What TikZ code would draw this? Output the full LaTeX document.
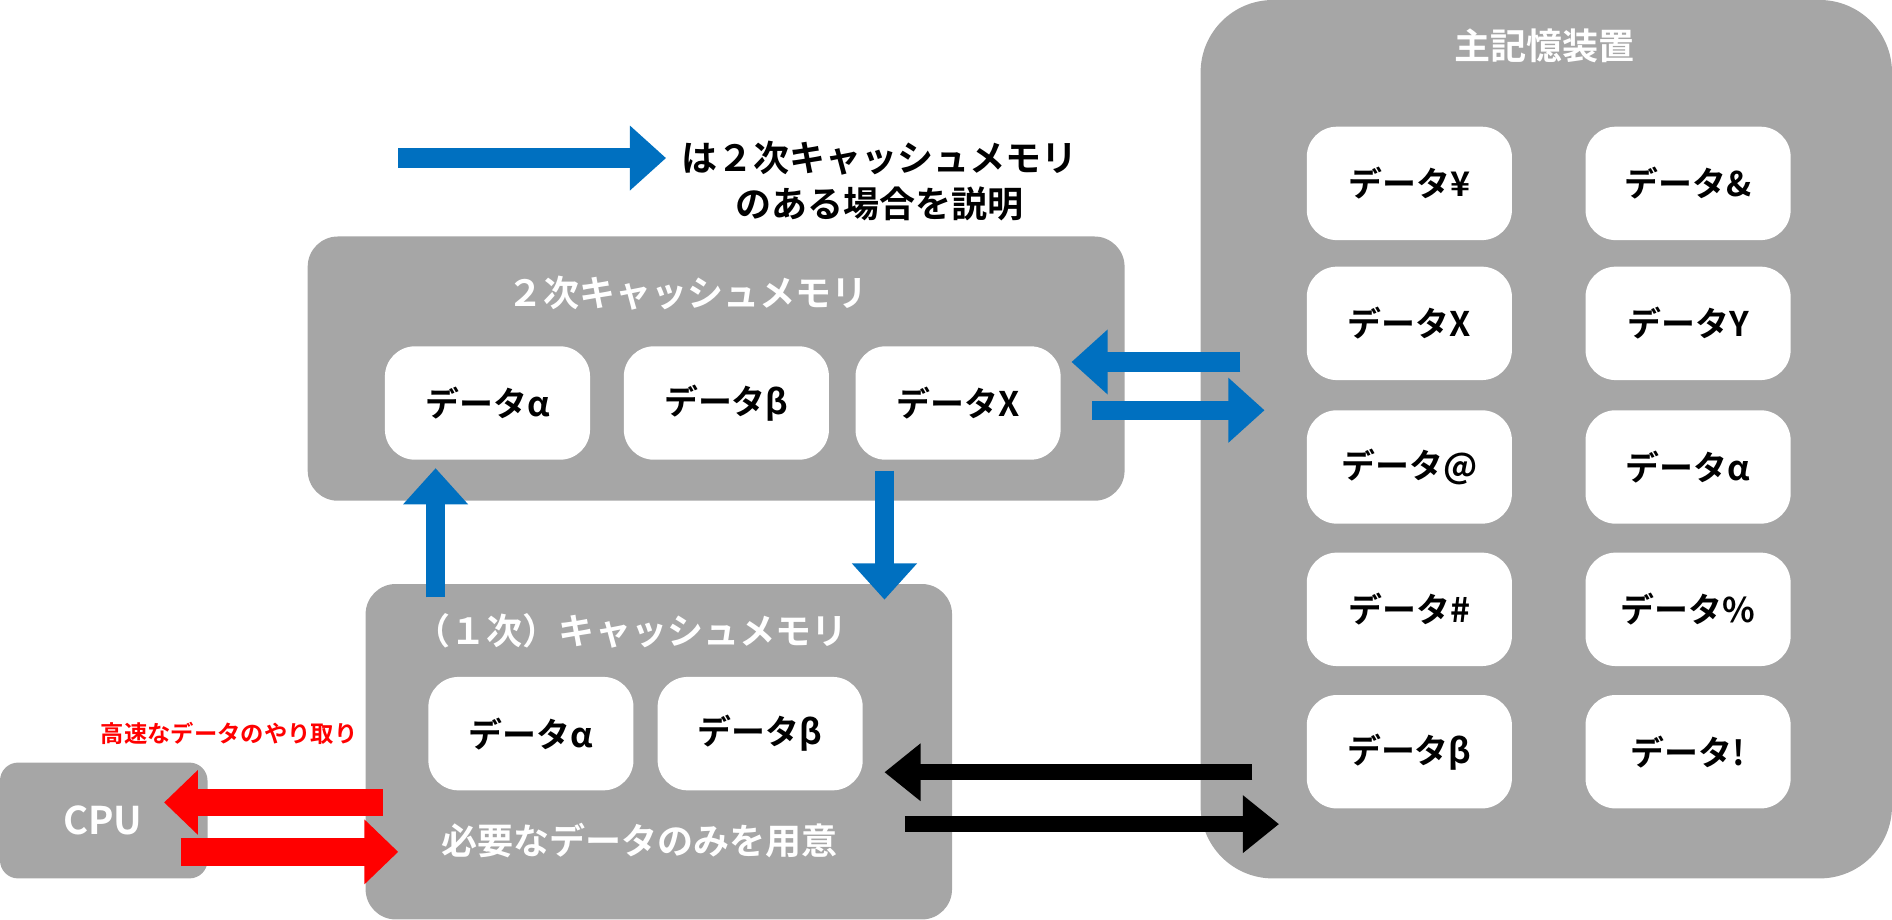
\documentclass[tikz,border=0pt]{standalone}
\usepackage{fontspec}
\setmainfont{Noto Sans CJK JP}[BoldFont={Noto Sans CJK JP Bold}]
\usetikzlibrary{arrows.meta}
\definecolor{boxgray}{HTML}{A6A6A6}
\definecolor{arrblue}{HTML}{0070C0}
\tikzset{
  panel/.style={fill=boxgray,rounded corners=#1},
  cell/.style={fill=white,rounded corners=2.5mm,minimum width=17mm,minimum height=9.4mm,
    font=\fontsize{8}{9}\selectfont\bfseries},
  head/.style={text=white,font=\fontsize{8.5}{10}\selectfont\bfseries},
  barrow/.style={draw=arrblue,line width=1.6mm,-{Triangle[length=3mm,width=5.2mm]}},
  karrow/.style={draw=black,line width=1.3mm,-{Triangle[length=3mm,width=4.6mm]}},
  rarrow/.style={draw=red,line width=2.3mm,-{Triangle[length=2.8mm,width=5.2mm]}}
}
\begin{document}
\begin{tikzpicture}[x=0.1mm,y=-0.1mm]
    \useasboundingbox (0,0) rectangle (1568,762);
    % panels
    \fill[panel=6mm] (995,0) rectangle (1568,728);
    \fill[panel=2.5mm] (255,196) rectangle (932,415);
    \fill[panel=2.5mm] (303,484) rectangle (789,762);
    \fill[panel=1.5mm] (0,632) rectangle (172,728);
    \node[head] (mtitle) at (1280,38) {主記憶装置};
    \node[head] (l2title) at (570,243) {２次キャッシュメモリ};
    \node[head] (l1title) at (523,523) {（１次）キャッシュメモリ};
    \node[head] (l1note) at (530,697) {必要なデータのみを用意};
    \node[head,font=\fontsize{9}{10}\selectfont\bfseries] (cpu) at (85,680) {CPU};
    % main memory cells
    \foreach \n/\y/\a/\b in {1/152/¥/\&,2/268/X/Y,3/387/@/α,4/505/\#/\%,5/623/β/!}{
      \node[cell] (m\n a) at (1168,\y) {データ\a};
      \node[cell] (m\n b) at (1399,\y) {データ\b};
    }
    % cache cells
    \node[cell] (l2a) at (404,334) {データα};
    \node[cell] (l2b) at (602,334) {データβ};
    \node[cell] (l2x) at (794,334) {データX};
    \node[cell] (l1a) at (440,608) {データα};
    \node[cell] (l1b) at (630,608) {データβ};
    % legend
    \coordinate (lg1) at (330,131);
    \coordinate (lg2) at (552,131);
    \draw[barrow] (lg1) -- (lg2);
    \node[anchor=west,align=center,font=\fontsize{8.5}{11}\selectfont\bfseries] (lgtext) at (552,150)
      {は２次キャッシュメモリ\\のある場合を説明};
    \node[text=red,font=\fontsize{5.5}{6}\selectfont\bfseries] (fast) at (190,608) {高速なデータのやり取り};
    % connectors
    \coordinate (b1) at (1028,300); \coordinate (b2) at (888,300);
    \coordinate (b3) at (905,340);  \coordinate (b4) at (1048,340);
    \coordinate (b5) at (361,495);  \coordinate (b6) at (361,388);
    \coordinate (b7) at (733,390);  \coordinate (b8) at (733,497);
    \draw[barrow] (b1) -- (b2);
    \draw[barrow] (b3) -- (b4);
    \draw[barrow] (b5) -- (b6);
    \draw[barrow] (b7) -- (b8);
    \coordinate (k1) at (1038,640); \coordinate (k2) at (733,640);
    \coordinate (k3) at (750,683);  \coordinate (k4) at (1060,683);
    \draw[karrow] (k1) -- (k2);
    \draw[karrow] (k3) -- (k4);
    \coordinate (r1) at (317,665); \coordinate (r2) at (136,665);
    \coordinate (r3) at (150,706); \coordinate (r4) at (330,706);
    \draw[rarrow] (r1) -- (r2);
    \draw[rarrow] (r3) -- (r4);
\end{tikzpicture}
\end{document}
